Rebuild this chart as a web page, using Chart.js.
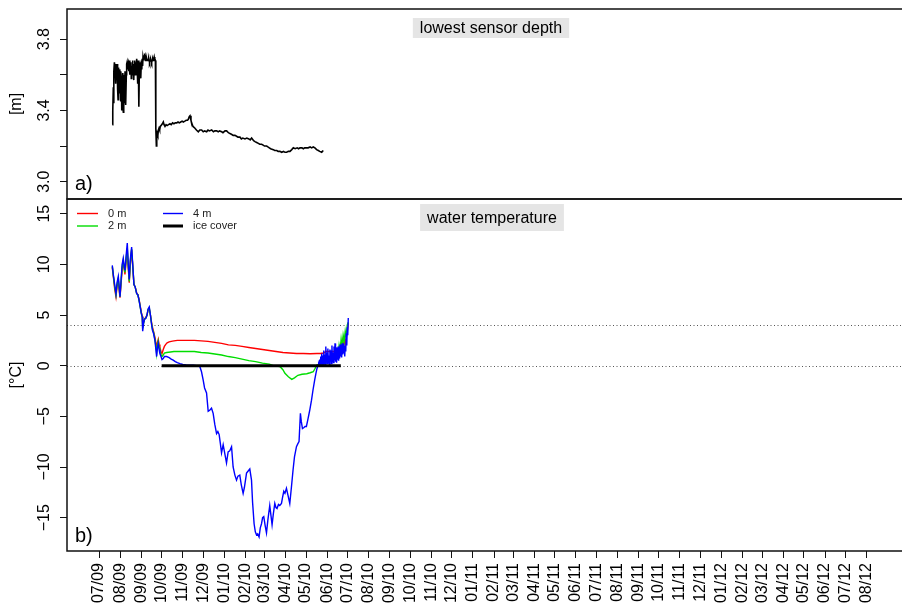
<!DOCTYPE html>
<html>
<head>
<meta charset="utf-8">
<script src="https://cdn.jsdelivr.net/npm/chart.js@4.4.0/dist/chart.umd.min.js"></script>
<style>
  html, body { margin: 0; padding: 0; background: #fff; }
  #wrap { position: relative; width: 902px; height: 607px; }
  canvas { position: absolute; left: 0; top: 0; }
</style>
</head>
<body>
<div id="wrap">
  <canvas id="tempChart" width="902" height="607"></canvas>
  <canvas id="depthChart" width="902" height="607"></canvas>
</div>
<script>
// --- tick labels (x: month/year, days counted from 01/07/2009) ---
const monthLabels = ['07/09','08/09','09/09','10/09','11/09','12/09','01/10','02/10','03/10','04/10','05/10','06/10',
  '07/10','08/10','09/10','10/10','11/10','12/10','01/11','02/11','03/11','04/11','05/11','06/11',
  '07/11','08/11','09/11','10/11','11/11','12/11','01/12','02/12','03/12','04/12','05/12','06/12','07/12','08/12'];
const depthTicks = [3.0, 3.2, 3.4, 3.6, 3.8];
const depthTickLabels = ['3.0', '', '3.4', '', '3.8'];
const tempTicks = [-15, -10, -5, 0, 5, 10, 15];
const tempTickLabels = ['\u221215', '\u221210', '\u22125', '0', '5', '10', '15'];
const refLines = [0, 4];

// --- a) lowest sensor depth [m] ---
const depthDays = [19.6,20.2,21.0,21.5,22.0,22.6,23.5,24.2,24.8,25.5,
  26.0,26.7,27.3,28.0,28.4,29.0,29.7,30.4,31.0,31.6,
  32.2,32.8,33.4,34.0,34.6,35.2,35.7,36.3,37.0,37.6,
  38.2,38.8,39.5,40.1,40.6,41.2,41.8,42.5,43.1,43.7,
  44.3,45.0,45.5,46.1,46.8,47.4,48.0,48.6,49.2,49.8,
  50.4,51.0,51.6,52.2,52.8,53.4,54.0,54.6,55.3,55.9,
  56.5,57.1,57.7,58.3,58.7,59.2,59.8,60.4,61.0,61.6,
  62.2,62.8,63.4,64.0,64.6,65.1,65.8,66.4,67.0,67.5,
  68.2,68.8,69.4,70.0,70.6,71.2,71.8,72.4,73.0,73.6,
  74.2,74.9,75.5,76.1,76.7,77.3,78.0,78.6,79.2,79.8,
  80.4,81.0,81.6,82.2,82.8,83.2,83.6,84.2,84.8,85.6,
  86.4,87.2,88.1,89.0,90.0,91.0,92.0,93.0,94.4,95.5,
  96.9,98.5,100,102,104.2,106,108,110,112,114,
  116,118,120,122,123.8,126,128,130,131.1,132.5,
  133.6,135,136,138,140.9,143,145.8,148,150.7,153,
  155,158.1,160,162,165.4,168,170,172.7,175,177,
  180.1,182,185,187.4,190,192.3,195,197,199.6,202,
  204,207,209,211,214.3,217,220,222,224.1,227,
  229,231.5,234,236,238.8,241,243,246.1,248,250,
  252,255.9,258,261,263,265.7,268,271,273,275.5,
  278,280.4,283,285.3,288,291,293,295.1,298,300,
  302,304.9,307,310,312,314.6,317,319.5,322,324,
  326.9,328,329.3];
const depthVals = [3.32,3.40,3.53,3.44,3.62,3.67,3.64,3.66,3.55,3.65,
  3.60,3.66,3.52,3.46,3.58,3.64,3.50,3.63,3.60,3.45,
  3.62,3.58,3.40,3.55,3.61,3.42,3.39,3.58,3.60,3.44,
  3.62,3.52,3.43,3.60,3.66,3.67,3.63,3.66,3.67,3.62,
  3.68,3.60,3.66,3.63,3.67,3.58,3.65,3.60,3.68,3.62,
  3.66,3.57,3.65,3.63,3.68,3.60,3.67,3.62,3.69,3.66,
  3.55,3.64,3.68,3.50,3.42,3.62,3.67,3.60,3.66,3.58,
  3.68,3.63,3.69,3.65,3.70,3.68,3.71,3.69,3.72,3.70,
  3.68,3.69,3.68,3.69,3.68,3.69,3.68,3.68,3.69,3.68,
  3.67,3.68,3.68,3.69,3.68,3.67,3.68,3.69,3.69,3.68,
  3.69,3.70,3.68,3.69,3.68,3.50,3.30,3.20,3.24,3.27,
  3.26,3.29,3.30,3.29,3.31,3.31,3.32,3.325,3.335,3.32,
  3.31,3.32,3.315,3.32,3.325,3.32,3.33,3.325,3.33,3.33,
  3.335,3.33,3.335,3.34,3.335,3.34,3.345,3.345,3.35,3.365,
  3.37,3.345,3.33,3.31,3.30,3.29,3.28,3.29,3.29,3.28,
  3.285,3.28,3.29,3.285,3.29,3.28,3.285,3.285,3.28,3.285,
  3.28,3.275,3.285,3.285,3.275,3.27,3.265,3.26,3.26,3.255,
  3.25,3.25,3.24,3.245,3.24,3.245,3.24,3.235,3.245,3.23,
  3.225,3.22,3.215,3.21,3.21,3.205,3.20,3.20,3.195,3.19,
  3.185,3.18,3.175,3.175,3.17,3.17,3.165,3.17,3.165,3.165,
  3.17,3.17,3.18,3.19,3.185,3.19,3.185,3.19,3.19,3.185,
  3.19,3.19,3.19,3.195,3.19,3.195,3.19,3.18,3.175,3.17,
  3.165,3.17,3.175];

// --- b) water temperature [°C] ---
const earlyDays = [19.5,21,23,24.9,26.5,28.3,30,30.8,32.5,34,
  35.6,37,38.1,40,41.5,43,44.4,46,47.9,49.5,
  51.3,53,55.3,57,58.7,60.5,62,63.5,64.1,65.5,
  67,68.9,70.5,72,73.8,75.5,77.3,78.5,80,82.1,
  83.5,84.6,85.8,87,88.2,89.4,91,92.5,94.3,96];

const t0Days = earlyDays.concat([98,100,103,106,110,115,120,130,140,150,
  160,170,180,190,200,210,220,230,240,250,
  260,270,280,290,300,310,320,325,330,333,
  336,340,344,348,351,353,354.5,356,357.5,359,
  360.5,362,363.5,365,366]);
const t0Vals = [9.7,8.8,7.6,6.8,7.8,8.4,7.2,6.7,8.2,9.5,
  10.2,9.5,9.0,10.4,11.2,9.6,8.2,10.1,11.4,9.8,
  8.0,7.8,7.2,7.0,6.6,5.9,5.3,4.9,4.0,4.3,
  4.6,4.8,5.0,5.5,5.6,5.0,4.2,3.8,3.4,2.8,
  2.2,1.7,2.3,2.6,2.1,1.8,1.4,1.2,1.6,1.9,
  2.1,2.25,2.35,2.4,2.45,2.5,2.5,2.5,2.5,2.45,
  2.4,2.3,2.2,2.05,2.0,1.9,1.8,1.7,1.6,1.5,
  1.4,1.3,1.25,1.2,1.2,1.18,1.2,1.2,1.25,1.4,
  1.4,1.4,1.4,1.4,1.45,1.4,2.0,1.5,2.4,1.8,
  2.6,2.2,3.0,3.6,4.2];

const t2Days = earlyDays.concat([99.3,105,110,120,130,140,150,160,170,180,
  190,200,210,220,230,240,250,256,262,266,
  270,273,278,283,287,292,298,305,310,314.6,
  317,319.6,325,330,335,340,344,347,349,351,
  352.5,354,355.5,357,358.5,360,361.5,363,364.5,366]);
const t2Vals = [9.8,8.9,7.8,7.0,8.0,8.6,7.4,6.8,8.4,9.8,
  10.4,9.6,9.2,10.7,11.6,9.8,8.3,10.3,11.5,9.9,
  8.0,7.8,7.1,7.0,6.5,5.8,5.2,4.8,3.7,4.2,
  4.6,4.7,5.0,5.5,5.7,5.0,4.1,3.6,3.3,2.6,
  1.9,1.2,2.0,2.4,1.8,1.5,1.1,0.9,1.05,1.25,
  1.3,1.35,1.4,1.4,1.4,1.4,1.3,1.25,1.15,1.05,
  0.9,0.8,0.65,0.5,0.4,0.25,0.15,0.0,-0.05,-0.1,
  -0.4,-0.75,-1.1,-1.35,-1.2,-0.95,-0.85,-0.8,-0.7,-0.6,
  -0.3,0.05,0.15,0.2,0.3,0.5,0.8,1.2,1.6,1.0,
  2.0,1.4,2.6,1.8,3.0,2.4,3.4,2.8,4.0,4.3];

const t4Days = earlyDays.concat([99.3,103,106,108.9,112,115,118.8,123,128,133,
  138.3,143,148.1,150.5,152.9,155,157.9,160.3,162.5,165.2,
  167.6,170,172.6,174.5,176.4,178,179.9,182.3,184.5,187.2,
  189.6,192,194.6,196.9,199.5,201.9,204,206.7,209,211.6,
  213.5,216.6,219,221.4,223.9,225.5,227.7,229.5,231.2,233,
  235,236.8,238.6,240.2,241.9,244,245.9,248,250.7,252.5,
  254.1,256,258.1,259.8,261.4,263.5,265.4,267.9,269.5,271.3,
  273,275.2,277.5,280.1,282.5,284.9,287,289.9,292,293.7,
  295.7,297,298.7,301,302.5,304.5,307,309.4,312,314.2,
  316.7,318.5,320,321.6,
  322.5,323.3,324,324.8,325.5,326.2,327,327.7,328.4,329.2,
  330,330.7,331.5,332.2,333,333.7,334.5,335.2,336,336.8,
  337.5,338.3,339,339.8,340.5,341.3,342,342.8,343.5,344.3,
  345,345.8,346.5,347.3,348,348.8,349.5,350.3,351,351.8,
  352.5,353.3,354,354.8,355.5,356.3,357,357.8,358.5,359.3,
  360,360.8,361.5,362.3,363,363.8,364.5,365.2,366]);
const t4Vals = [9.9,9.0,8.0,7.1,8.2,8.8,7.5,6.8,8.5,10.0,
  10.6,9.8,9.4,11.0,12.1,10.0,8.5,10.5,11.7,10.0,
  8.0,7.8,7.1,7.0,6.5,5.8,5.2,4.8,3.4,4.2,
  4.6,4.7,5.0,5.6,5.8,5.0,4.0,3.5,3.2,2.5,
  1.6,0.9,1.8,2.2,1.6,1.2,0.9,0.6,0.7,0.9,
  0.9,0.8,0.65,0.55,0.4,0.3,0.2,0.12,0.08,0.05,
  0.05,0.0,-0.1,-0.6,-1.4,-2.2,-2.7,-4.5,-4.4,-4.2,
  -4.7,-5.8,-6.7,-6.5,-6.8,-7.6,-8.6,-7.8,-8.6,-9.6,
  -8.5,-8.4,-8.0,-10.0,-10.8,-11.3,-10.9,-10.8,-11.8,-12.6,
  -12.0,-10.6,-10.4,-10.2,-11.3,-13.5,-15.6,-16.4,-16.7,-16.6,
  -16.9,-16.0,-15.6,-15.0,-14.9,-15.8,-16.5,-15.2,-13.8,-14.8,
  -15.7,-14.6,-13.6,-14.0,-14.1,-13.7,-13.8,-13.6,-13.0,-12.4,
  -12.6,-12.1,-12.8,-13.6,-12.0,-10.3,-9.0,-8.0,-7.7,-7.5,
  -4.7,-5.5,-6.2,-6.1,-6.0,-6.0,-5.2,-4.4,-3.4,-2.4,
  -1.4,-0.75,-0.3,0.07,
  0.2,0.05,0.6,0.1,0.9,0.2,1.2,0.1,1.0,0.1,
  1.5,0.3,1.1,0.1,1.9,0.4,1.3,0.2,1.7,0.3,
  1.0,0.1,1.6,0.5,1.5,0.2,2.0,0.4,1.3,0.3,
  1.9,0.6,2.2,0.4,1.8,0.3,1.0,0.6,1.9,0.5,
  1.4,0.7,2.1,0.9,1.8,0.8,2.2,1.1,2.2,1.2,
  2.0,0.9,2.0,1.4,3.2,2.0,3.8,3.0,4.7];

const iceDays = [92, 355];
const iceVals = [0, 0];

// --- layout / style ---
const FONT = '"Liberation Sans", Arial, Helvetica, sans-serif';
const X_MIN = -47, X_MAX = 1179;
const START = Date.UTC(2009, 6, 1);
const monthDays = monthLabels.map(l => {
  const [m, y] = l.split('/');
  return (Date.UTC(2000 + Number(y), Number(m) - 1, 1) - START) / 864e5;
});

Chart.defaults.font.family = FONT;
Chart.defaults.animation = false;

function xy(days, vals) {
  return days.map((d, i) => ({ x: d, y: vals[i] }));
}

// frame, tick labels, title box, panel tag, legend
const panelDecor = {
  id: 'panelDecor',
  beforeDatasetsDraw(chart, args, o) {
    const { ctx, chartArea: a } = chart;
    const ys = chart.scales.y;
    (o.refLines || []).forEach(v => {
      const py = Math.round(ys.getPixelForValue(v)) + 0.5;
      ctx.save();
      ctx.strokeStyle = '#555';
      ctx.lineWidth = 1;
      ctx.setLineDash([1, 2.5]);
      ctx.beginPath();
      ctx.moveTo(a.left, py);
      ctx.lineTo(a.right, py);
      ctx.stroke();
      ctx.restore();
    });
  },
  afterDraw(chart, args, o) {
    const { ctx, chartArea: a } = chart;
    const ys = chart.scales.y;
    ctx.save();

    // box (right side runs off the canvas)
    ctx.strokeStyle = '#111';
    ctx.lineWidth = 1.5;
    ctx.beginPath();
    ctx.moveTo(a.right + 5, a.top);
    ctx.lineTo(a.left, a.top);
    ctx.lineTo(a.left, a.bottom);
    ctx.lineTo(a.right + 5, a.bottom);
    ctx.stroke();

    // y tick labels, parallel to the axis
    ctx.fillStyle = '#000';
    ctx.font = '16px ' + FONT;
    ctx.textAlign = 'center';
    ctx.textBaseline = 'middle';
    o.tickValues.forEach((v, i) => {
      if (!o.tickLabels[i]) return;
      ctx.save();
      ctx.translate(45, ys.getPixelForValue(v));
      ctx.rotate(-Math.PI / 2);
      ctx.fillText(o.tickLabels[i], 0, 0);
      ctx.restore();
    });

    // y axis title
    ctx.save();
    ctx.translate(17, (a.top + a.bottom) / 2);
    ctx.rotate(-Math.PI / 2);
    ctx.fillText(o.yTitle, 0, 0);
    ctx.restore();

    // title in grey box
    const tw = ctx.measureText(o.title).width;
    ctx.fillStyle = '#e5e5e5';
    ctx.fillRect(o.titleX - tw / 2 - 7, o.titleTop, tw + 14, o.titleH);
    ctx.fillStyle = '#000';
    ctx.fillText(o.title, o.titleX, o.titleTop + o.titleH / 2 + 1);

    // panel tag
    ctx.font = '20px ' + FONT;
    ctx.textAlign = 'left';
    ctx.textBaseline = 'alphabetic';
    ctx.fillText(o.tag, 75, a.bottom - 9);

    // legend
    if (o.legend) {
      ctx.font = '11px ' + FONT;
      ctx.textBaseline = 'middle';
      const cols = [[77, 98, 108], [163, 183, 193]];
      const rows = [213.5, 226];
      chart.data.datasets.filter(d => d.legendPos != null).forEach(d => {
        const c = cols[Math.floor(d.legendPos / 2)];
        const r = rows[d.legendPos % 2];
        ctx.strokeStyle = d.borderColor;
        ctx.lineWidth = d.borderWidth;
        ctx.beginPath();
        ctx.moveTo(c[0], r);
        ctx.lineTo(c[1], r);
        ctx.stroke();
        ctx.fillStyle = '#222';
        ctx.fillText(d.label, c[2], r);
      });
    }
    ctx.restore();
  }
};

function yAxis(min, max, ticks) {
  return {
    type: 'linear', min: min, max: max, bounds: 'data',
    afterBuildTicks: s => { s.ticks = ticks.map(v => ({ value: v })); },
    afterFit: s => { s.width = 67; },
    ticks: { display: false },
    grid: { drawOnChartArea: false, tickLength: 7, color: '#111', lineWidth: 1 },
    border: { display: false }
  };
}

const lineDefaults = { pointRadius: 0, tension: 0, fill: false };

// a) depth chart, top strip of the canvas
new Chart(document.getElementById('depthChart'), {
  type: 'line',
  data: {
    datasets: [{
      ...lineDefaults, label: 'depth',
      data: xy(depthDays, depthVals),
      borderColor: '#000', borderWidth: 1.6
    }]
  },
  options: {
    responsive: false,
    layout: { padding: { top: 9, bottom: 408, left: 0, right: 0 } },
    plugins: {
      legend: { display: false }, tooltip: { enabled: false },
      panelDecor: {
        tickValues: depthTicks, tickLabels: depthTickLabels, yTitle: '[m]',
        title: 'lowest sensor depth', titleX: 491, titleTop: 18, titleH: 20, tag: 'a)'
      }
    },
    scales: {
      x: { type: 'linear', min: X_MIN, max: X_MAX, display: false },
      y: yAxis(2.903, 3.969, depthTicks)
    }
  },
  plugins: [panelDecor]
});

// b) temperature chart, lower part with the date axis
new Chart(document.getElementById('tempChart'), {
  type: 'line',
  data: {
    datasets: [
      { ...lineDefaults, label: 'ice cover', legendPos: 3, order: 0,
        data: xy(iceDays, iceVals), borderColor: '#000', borderWidth: 3 },
      { ...lineDefaults, label: '4 m', legendPos: 2, order: 1,
        data: xy(t4Days, t4Vals), borderColor: '#0000ff', borderWidth: 1.4 },
      { ...lineDefaults, label: '2 m', legendPos: 1, order: 2,
        data: xy(t2Days, t2Vals), borderColor: '#00dd00', borderWidth: 1.4 },
      { ...lineDefaults, label: '0 m', legendPos: 0, order: 3,
        data: xy(t0Days, t0Vals), borderColor: '#ff0000', borderWidth: 1.4 }
    ]
  },
  options: {
    responsive: false,
    layout: { padding: { top: 199, bottom: 0, left: 0, right: 0 } },
    plugins: {
      legend: { display: false }, tooltip: { enabled: false },
      panelDecor: {
        tickValues: tempTicks, tickLabels: tempTickLabels, yTitle: '[\u00b0C]',
        title: 'water temperature', titleX: 492, titleTop: 204, titleH: 27, tag: 'b)',
        refLines: refLines, legend: true
      }
    },
    scales: {
      x: {
        type: 'linear', min: X_MIN, max: X_MAX,
        afterBuildTicks: s => { s.ticks = monthDays.map(v => ({ value: v })); },
        afterFit: s => { s.height = 56; },
        ticks: {
          autoSkip: false, minRotation: 90, maxRotation: 90, padding: 5,
          color: '#000', font: { size: 16 },
          callback: (v, i) => monthLabels[i]
        },
        grid: { drawOnChartArea: false, tickLength: 7, color: '#111', lineWidth: 1 },
        border: { display: false }
      },
      y: yAxis(-18.29, 16.45, tempTicks)
    }
  },
  plugins: [panelDecor]
});
</script>
</body>
</html>
